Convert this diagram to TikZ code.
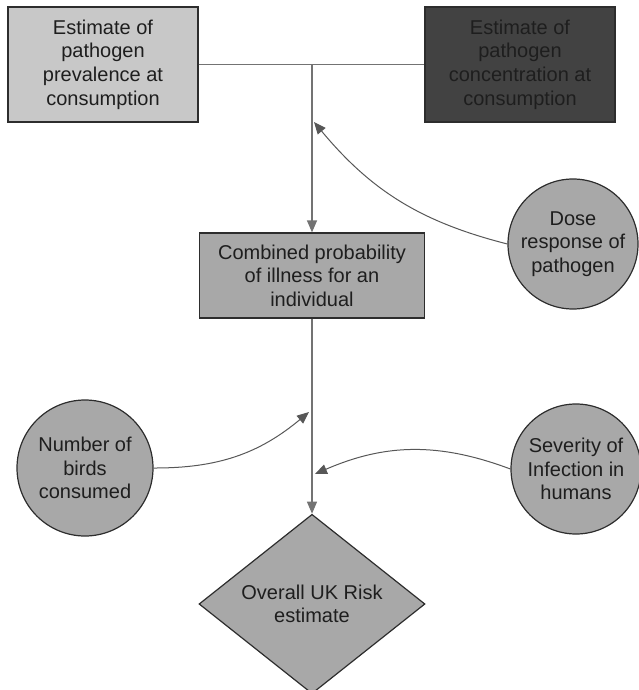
\documentclass[tikz,border=0pt]{standalone}
\usepackage{fontspec}
\setmainfont{Liberation Sans}
\usepackage{tikz}
\usetikzlibrary{shapes.geometric}
\usetikzlibrary{positioning}
\usetikzlibrary{calc}
\usetikzlibrary{arrows.meta}
\definecolor{lightbox}{RGB}{200,200,200}
\definecolor{darkbox}{RGB}{66,66,66}
\definecolor{midbox}{RGB}{168,168,168}
\definecolor{edge}{RGB}{45,45,45}
\definecolor{wire}{RGB}{115,115,115}
\definecolor{txt}{RGB}{30,30,30}

\begin{document}
\begin{tikzpicture}[x=0.5pt,y=-0.5pt,
  every node/.style={font=\fontsize{10}{11.8}\selectfont, text=txt, align=center},
  box/.style={rectangle, draw=edge, line width=0.6pt, minimum width=95pt, minimum height=57.5pt, inner sep=2pt},
  ball/.style={circle, draw=edge, line width=0.6pt, fill=midbox, inner sep=0pt},
  link/.style={draw=wire, line width=0.6pt},
  feed/.style={draw=edge!80, line width=0.5pt, -{Triangle[width=5pt,length=6pt]}}
]

%---------------------------------------
% Canvas
%---------------------------------------
\useasboundingbox (0,0) rectangle (638,690);

%====================================================
% TOP ROW: the two estimates
%====================================================
\node[box, fill=lightbox] (prev) at (103,64.5)
  {Estimate of\\pathogen\\prevalence at\\consumption};
\node[box, fill=darkbox] (conc) at (520,64.5)
  {Estimate of\\pathogen\\concentration at\\consumption};

%====================================================
% MIDDLE: combined probability
%====================================================
\node[box, fill=midbox, minimum width=112.5pt, minimum height=42.5pt] (comb) at (312,275.5)
  {Combined probability\\of illness for an\\individual};
\node[ball, minimum size=65pt] (dose) at (573,244) {Dose\\response of\\pathogen};

%====================================================
% BOTTOM: overall risk
%====================================================
\node[ball, minimum size=68pt] (birds) at (85,468) {Number of\\birds\\consumed};
\node[ball, minimum size=65pt] (sev) at (576,469) {Severity of\\Infection in\\humans};
\node[diamond, draw=edge, line width=0.6pt, fill=midbox, inner sep=0pt,
      minimum width=113pt, minimum height=82pt] (risk) at (312,604)
  {Overall UK Risk\\estimate};

% Points where the side inputs meet the main line
\coordinate (junc) at (prev.east -| comb.north);
\coordinate (doseIn) at (314,122);
\coordinate (birdsIn) at (309,412);
\coordinate (sevIn) at (315,474);

% Main flow
\draw[link] (prev.east) -- (conc.west);
\draw[link, -{Triangle[width=5pt,length=6pt]}] (junc) -- (comb.north);
\draw[link, -{Triangle[width=5pt,length=6pt]}] (comb.south) -- (risk.north);

% Side inputs
\draw[feed] (dose.west) to[bend left=18] (doseIn);
\draw[feed] (birds.east) to[bend right=20] (birdsIn);
\draw[feed] (sev.west) to[bend right=22] (sevIn);

\end{tikzpicture}
\end{document}
